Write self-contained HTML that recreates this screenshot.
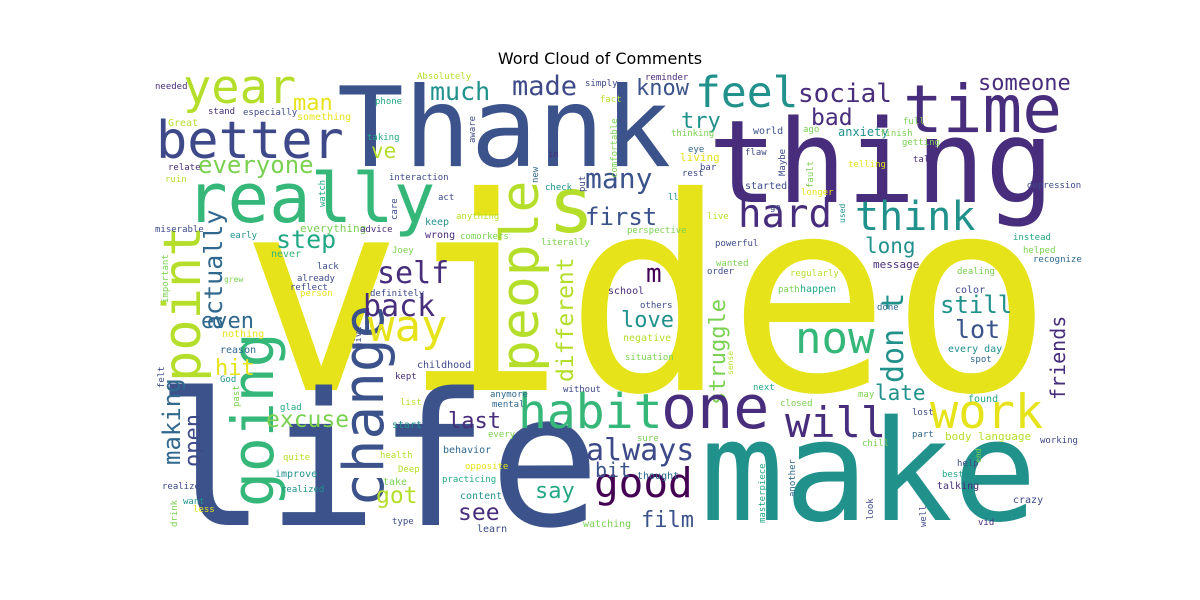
<!DOCTYPE html>
<html><head><meta charset="utf-8"><title>Word Cloud of Comments</title>
<style>
html,body{margin:0;padding:0;background:#fff;}
svg{display:block;}
text{font-family:"DejaVu Sans Mono","Liberation Mono",monospace;}
#title{font-family:"DejaVu Sans","Liberation Sans",sans-serif;}
</style></head>
<body>
<svg id="chart" width="1200" height="600" viewBox="0 0 1200 600">
<rect width="1200" height="600" fill="#fff"/>
<text id="title" x="600" y="64" font-size="16" text-anchor="middle" fill="#000">Word Cloud of Comments</text>
<g id="cloud"></g>
</svg>
<script>
// word list and its font sizes (frequency weights)
const words = ["video","life","make","Thank","thing","really","time","feel","year","better","s","people","point","going","change","way","back","self","step","actually","everyone","man","much","made","ve","know","social","someone","try","bad","many","first","hard","think","long","m","love","different","struggle","now","don t","still","lot","friends","late","work","will","one","habit","always","good","bit","film","last","see","say","got","excuse","making","open","even","hit",
"needed","Absolutely","phone","stand","especially","something","Great","taking","relate","interaction","ruin","check","act","anything","miserable","everything","advice","keep","wrong","early","comorkers","literally","Joey","never","lack","already","reflect","person","definitely","grew","in","simply",
"reminder","fact","full","thinking","world","ago","anxiety","finish","eye","getting","living","flaw","talk","bar","rest","telling","started","longer","depression","ll","go","live","perspective","instead","powerful","helped","wanted","message","recognize","order","regularly","dealing","school","path","happen","color","others",
"negative","situation","every day","spot","done","next","closed","may","found","lost","part","body language","working","chill","sure","help","thought","best","talking","crazy","vid","watching",
"nothing","reason","God","childhood","kept","anymore","without","list","glad","mental","start","every","behavior","quite","health","opposite","improve","Deep","realize","practicing","take","realized","content","want","less","type","learn",
"watch","aware","care","new","put","comfortable","Maybe","fault","used","sense","masterpiece","another","look","well","end","give","felt","past","drink","important"];
const sizes = [270,185,140,111,115,69,66,43,47,52,77,53,52,58,56,44,30,30,25,25,24,22,25,27,21,22,26,22,22,23,28,24,39,40,21,26,22,23,22,44,30,24,25,20,21,47,42,60,48,30,41,20,22,22,23,22,23,23,24,22,22,22,
9,9,9,9,9,10,10,9,9,9,9,9,9,9,9,11,9,10,10,9,9,9,9,10,9,9,9,9,9,8,9,9,
9,9,9,9,10,9,12,9,9,9,11,9,9,9,9,9,10,9,9,9,9,9,9,9,9,9,9,11,9,9,9,9,10,9,10,10,9,
10,9,10,9,9,9,9,9,10,9,9,11,9,9,9,9,10,9,10,10,9,10,
10,10,9,10,9,9,9,9,9,9,10,9,10,9,9,9,10,9,9,9,10,9,10,9,9,9,10,
9,9,9,9,9,9,9,9,8,8,9,9,9,9,8,9,9,9,9,9];
const colorIdx = [0,7,5,7,9,3,9,5,1,8,1,1,1,3,7,0,9,9,4,6,2,0,5,8,1,7,9,9,5,9,7,7,9,5,5,10,5,1,2,3,5,5,7,9,5,0,9,9,3,8,10,7,7,9,9,4,1,2,6,8,6,0,
9,1,4,9,8,0,1,4,9,8,1,5,8,1,8,2,9,5,9,5,2,2,2,3,8,8,8,0,8,2,9,8,
9,1,2,2,7,2,5,2,6,2,0,8,9,8,8,0,8,0,8,5,8,1,2,4,8,2,2,9,6,8,1,2,9,2,4,8,8,
1,2,5,6,6,4,2,2,4,8,6,1,8,2,2,8,6,4,9,8,9,2,
0,6,5,8,9,6,8,1,4,6,5,2,6,1,1,0,5,1,8,4,2,5,5,5,0,8,8,
4,8,8,6,8,2,8,2,5,1,4,6,8,8,2,8,8,2,2,2];
// rendering helpers (layout, not data)
const palette = ["#e7e31a","#b5de2b","#7ad151","#35b779","#22a884","#21918c","#31688e","#3b528b","#3e4989","#472d7b","#440154"];
const layout = [[240,390,0],[155,525,0],[700,520,0],[337,166,0],[708,202,0],[186,222,0],[903,132,0],[695,107,0],[183,103,0],[156,158,0],[548,232,0],[538,372,1],[200,382,1],[273,507,1],[383,507,1],[368,341,0],[363,316,0],[377,283,0],[276,248,0],[222,330,1],[198,173,0],[293,110,0],[430,100,0],[512,95,0],[371,158,0],[636,95,0],[798,102,0],[978,90,0],[681,128,0],[811,125,0],[585,188,0],[585,225,0],[738,227,0],[855,230,0],[865,253,0],[646,282,0],[621,327,0],[573,382,1],[725,405,1],[795,353,0],[903,383,1],[940,313,0],[955,338,0],[1065,400,1],[875,400,0],[930,428,0],[785,437,0],[661,428,0],[518,428,0],[586,460,0],[594,497,0],[595,477,0],[641,527,0],[448,428,0],[458,520,0],[535,498,0],[376,503,0],[266,427,0],[180,465,1],[200,467,1],[201,328,0],[215,375,0],
[155,89,0],[417,79,0],[375,104,0],[208,114,0],[243,115,0],[297,120,0],[168,126,0],[367,140,0],[168,170,0],[389,180,0],[165,182,0],[545,190,0],[438,200,0],[456,219,0],[155,232,0],[300,232,0],[360,232,0],[425,225,0],[425,238,0],[230,238,0],[460,239,0],[541,245,0],[392,253,0],[271,257,0],[317,269,0],[297,281,0],[290,290,0],[300,296,0],[370,296,0],[224,282,0],[548,157,0],[585,86,0],
[645,80,0],[600,102,0],[903,124,0],[671,136,0],[753,134,0],[803,132,0],[838,136,0],[880,136,0],[688,152,0],[902,145,0],[680,161,0],[745,155,0],[913,162,0],[700,170,0],[682,176,0],[848,167,0],[745,189,0],[801,195,0],[1027,188,0],[668,200,0],[770,210,0],[707,219,0],[627,233,0],[1013,240,0],[715,246,0],[1023,253,0],[716,266,0],[873,268,0],[1033,262,0],[707,274,0],[790,276,0],[957,274,0],[608,294,0],[778,292,0],[800,292,0],[955,293,0],[640,308,0],
[623,341,0],[625,360,0],[948,352,0],[970,362,0],[877,310,0],[753,390,0],[780,406,0],[858,397,0],[968,402,0],[912,415,0],[912,437,0],[945,440,0],[1040,443,0],[862,446,0],[637,441,0],[957,466,0],[637,479,0],[942,477,0],[937,489,0],[1013,503,0],[978,525,0],[583,527,0],
[222,337,0],[220,353,0],[220,382,0],[417,368,0],[395,379,0],[490,397,0],[563,392,0],[400,405,0],[280,410,0],[492,407,0],[392,428,0],[488,437,0],[443,453,0],[283,460,0],[380,458,0],[465,469,0],[275,477,0],[398,472,0],[162,489,0],[442,482,0],[383,485,0],[281,492,0],[460,499,0],[183,504,0],[193,512,0],[392,524,0],[477,532,0],
[325,207,1],[475,143,1],[397,220,1],[538,183,1],[585,192,1],[617,178,1],[785,176,1],[813,188,1],[845,223,1],[733,375,1],[765,523,1],[795,497,1],[873,520,1],[926,527,1],[981,463,1],[361,348,1],[164,388,1],[239,407,1],[177,527,1],[168,303,1]];
const NS = "http://www.w3.org/2000/svg";
const g = document.getElementById("cloud");
for (let i = 0; i < words.length; i++) {
  const t = document.createElementNS(NS, "text");
  const p = layout[i];
  t.setAttribute("font-size", sizes[i]);
  t.setAttribute("fill", palette[colorIdx[i]]);
  if (p[2]) {
    t.setAttribute("transform", "translate(" + p[0] + "," + p[1] + ") rotate(-90)");
  } else {
    t.setAttribute("x", p[0]);
    t.setAttribute("y", p[1]);
  }
  t.textContent = words[i];
  
  
  g.appendChild(t);
}
</script>
</body></html>
